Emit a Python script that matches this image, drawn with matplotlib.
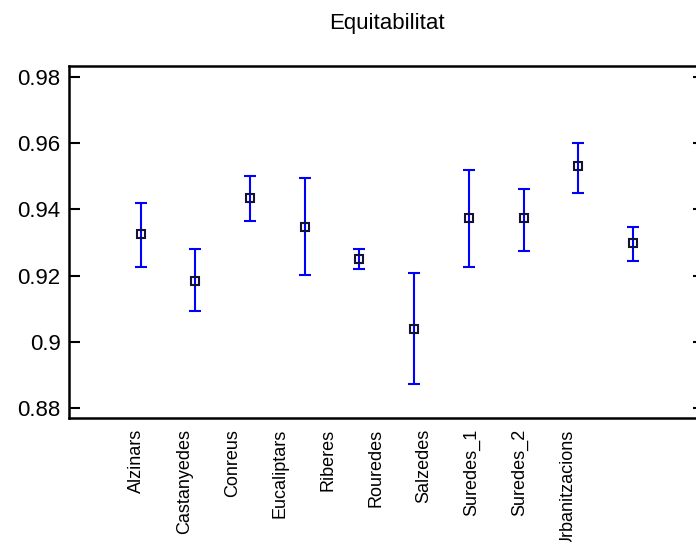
import numpy as np
import matplotlib
matplotlib.use("Agg")
import matplotlib.pyplot as plt

# Evenness (equitability) per habitat: mean with lower/upper interval bounds
categories = ["Alzinars", "Castanyedes", "Conreus", "Eucaliptars", "Riberes",
              "Rouredes", "Salzedes", "Suredes_1", "Suredes_2", "Urbanitzacions"]
means = [0.9325, 0.9185, 0.9433, 0.9348, 0.9250, 0.9040, 0.9373, 0.9373, 0.9530, 0.9300]
lower = [0.9227, 0.9095, 0.9366, 0.9202, 0.9221, 0.8873, 0.9227, 0.9275, 0.9450, 0.9245]
upper = [0.9420, 0.9280, 0.9500, 0.9493, 0.9280, 0.9209, 0.9519, 0.9461, 0.9601, 0.9348]
ytick_values = [0.88, 0.90, 0.92, 0.94, 0.96, 0.98]
ytick_labels = ["0.88", "0.9", "0.92", "0.94", "0.96", "0.98"]
title = "Equitabilitat"

plt.rcParams['font.family'] = ['Liberation Sans', 'DejaVu Sans']

fig = plt.figure(figsize=(6.96, 5.42), dpi=100)
ax = fig.add_axes([0.0991, 0.2288, 0.9124, 0.6494])

x = np.arange(len(categories))
m = np.array(means)
lo = np.array(lower)
hi = np.array(upper)

ax.errorbar(x, m, yerr=[m - lo, hi - m], fmt='none', ecolor='#0000ff',
            elinewidth=1.5, capsize=4.2, capthick=1.5, zorder=2)
ax.plot(x, m, ls='none', marker='s', ms=5.5, mfc='none', mec='#141432',
        mew=1.5, zorder=3)

ax.set_xlim(-1.31, 10.3)
ax.set_ylim(0.8771, 0.9832)

# category labels are laid out on a slightly tighter pitch than the points
label_pos = -0.073 + 0.8743 * x
ax.set_xticks(label_pos)
ax.set_xticklabels(categories, rotation=90, fontsize=13)
ax.tick_params(axis='x', length=0, pad=8)

ax.set_yticks(ytick_values)
ax.set_yticklabels(ytick_labels, fontsize=16)
ax.tick_params(axis='y', direction='in', length=8, width=1.5, left=True,
               right=True, pad=6)

for side in ('left', 'top', 'bottom', 'right'):
    ax.spines[side].set_linewidth(1.8)

ax.set_title(title, fontsize=16, pad=27)

fig.savefig("out.png", dpi=100)
